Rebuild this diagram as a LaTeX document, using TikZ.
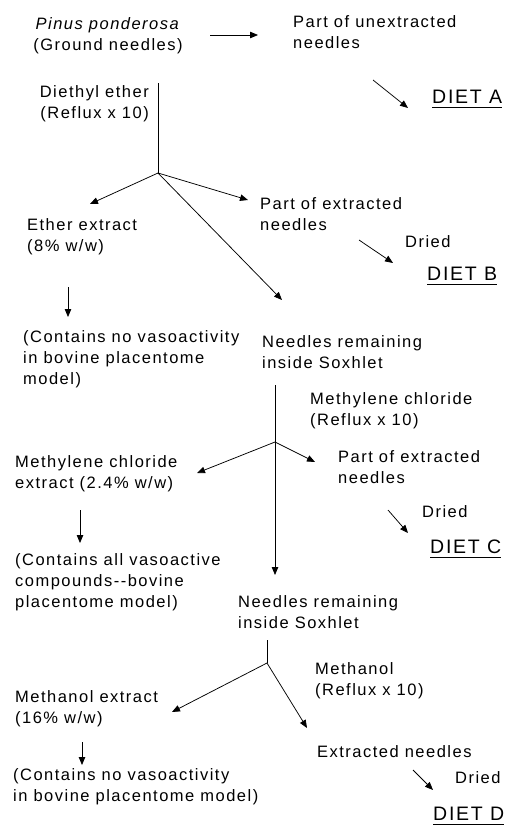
\documentclass[tikz,border=0pt]{standalone}
\usepackage{fontspec}
\setmainfont{Liberation Sans}[LetterSpace=9]
\usepackage{tikz}
\usetikzlibrary{arrows.meta}

\newcommand{\dietline}[1]{\underline{\raisebox{0pt}[0pt][3pt]{#1}}}

\tikzset{
  txt/.style={inner sep=0pt, align=left, font=\fontsize{16.5}{21}\selectfont},
  diet/.style={inner sep=0pt, font=\fontsize{19.5}{23}\selectfont},
  arr/.style={-{Triangle[length=8pt,width=6.5pt]}, line width=0.75pt},
  ln/.style={line width=0.75pt}
}

\begin{document}
\begin{tikzpicture}[x=1pt,y=1pt]
			\useasboundingbox (0,0) rectangle (509,-827);
			% Nodes
			\node[txt, align=center, anchor=north] (pinus) at (108,-17) {\textit{Pinus ponderosa}\\(Ground needles)};
			\node[txt, anchor=north west] (unext) at (293,-15) {Part of unextracted\\needles};
			\node[diet, anchor=base west] (dietA) at (432,-103) {\dietline{DIET A}};
			\node[txt, align=right, anchor=north east] (diethyl) at (149,-85) {Diethyl ether\\(Reflux x 10)};
			\node[txt, anchor=north west] (ether) at (27,-218) {Ether extract\\(8\% w/w)};
			\node[txt, anchor=north west] (partB) at (260,-197) {Part of extracted\\needles};
			\node[txt, anchor=base west] (driedB) at (405,-247) {Dried};
			\node[diet, anchor=base west] (dietB) at (427,-280) {\dietline{DIET B}};
			\node[txt, anchor=north west] (contains1) at (23,-330) {(Contains no vasoactivity\\in bovine placentome\\ model)};
			\node[txt, anchor=north west] (needles1) at (262,-335) {Needles remaining\\inside Soxhlet};
			\node[txt, anchor=north west] (methylene) at (310,-392) {Methylene chloride\\(Reflux x 10)};
			\node[txt, anchor=north west] (partC) at (338,-450) {Part of extracted\\needles};
			\node[txt, anchor=north west] (mcext) at (15,-455) {Methylene chloride\\extract (2.4\% w/w)};
			\node[txt, anchor=north west] (contains2) at (15,-553) {(Contains all vasoactive\\compounds-{}-bovine\\placentome model)};
			\node[txt, anchor=base west] (driedC) at (422,-517) {Dried};
			\node[diet, anchor=base west] (dietC) at (430,-553) {\dietline{DIET C}};
			\node[txt, anchor=north west] (needles2) at (238,-595) {Needles remaining\\inside Soxhlet};
			\node[txt, anchor=north west] (methanol) at (315,-662) {Methanol\\(Reflux x 10)};
			\node[txt, anchor=north west] (meext) at (15,-690) {Methanol extract\\(16\% w/w)};
			\node[txt, anchor=north west] (contains3) at (13,-768) {(Contains no vasoactivity\\in bovine placentome model)};
			\node[txt, anchor=north west] (extr) at (317,-745) {Extracted needles};
			\node[txt, anchor=base west] (driedD) at (455,-783) {Dried};
			\node[diet, anchor=base west] (dietD) at (433,-820) {\dietline{DIET D}};
			% Branch points
			\coordinate (j1) at (158,-173);
			\coordinate (j2) at (275,-442);
			\coordinate (j3) at (267,-663);
			% Ether step
			\draw[arr] ([xshift=102pt,yshift=-18pt]pinus.north) -- ([xshift=-35pt,yshift=-20pt]unext.north west);
			\draw[arr] ([xshift=80pt,yshift=-65pt]unext.north west) -- ([xshift=-24pt,yshift=-5pt]dietA.base west);
			\draw[ln] ([xshift=9pt,yshift=2pt]diethyl.north east) -- (j1);
			\draw[arr] (j1) -- ([xshift=63pt,yshift=14pt]ether.north west);
			\draw[arr] (j1) -- ([xshift=-12pt,yshift=-3pt]partB.north west);
			\draw[arr] (j1) -- ([xshift=20pt,yshift=35pt]needles1.north west);
			\draw[arr] ([xshift=99pt,yshift=-43pt]partB.north west) -- ([xshift=-34pt,yshift=17pt]dietB.base west);
			\draw[arr] ([xshift=41pt,yshift=-69pt]ether.north west) -- ([xshift=45pt,yshift=13pt]contains1.north west);
			% Methylene chloride step
			\draw[ln] ([xshift=13pt,yshift=-50pt]needles1.north west) -- (j2);
			\draw[arr] (j2) -- ([xshift=37pt,yshift=20pt]needles2.north west);
			\draw[arr] (j2) -- ([xshift=182pt,yshift=-18pt]mcext.north west);
			\draw[arr] (j2) -- ([xshift=-23pt,yshift=-12pt]partC.north west);
			\draw[arr] ([xshift=50pt,yshift=-60pt]partC.north west) -- ([xshift=-22pt,yshift=20pt]dietC.base west);
			\draw[arr] ([xshift=65pt,yshift=-55pt]mcext.north west) -- ([xshift=65pt,yshift=10pt]contains2.north west);
			% Methanol step
			\draw[ln] ([xshift=29pt,yshift=-45pt]needles2.north west) -- (j3);
			\draw[arr] (j3) -- ([xshift=157pt,yshift=-22pt]meext.north west);
			\draw[arr] (j3) -- ([xshift=-10pt,yshift=17pt]extr.north west);
			\draw[arr] ([xshift=67pt,yshift=-52pt]meext.north west) -- ([xshift=69pt,yshift=3pt]contains3.north west);
			\draw[arr] ([xshift=96pt,yshift=-25pt]extr.north west) -- ([xshift=0pt,yshift=30pt]dietD.base west);
		\end{tikzpicture}
\end{document}
